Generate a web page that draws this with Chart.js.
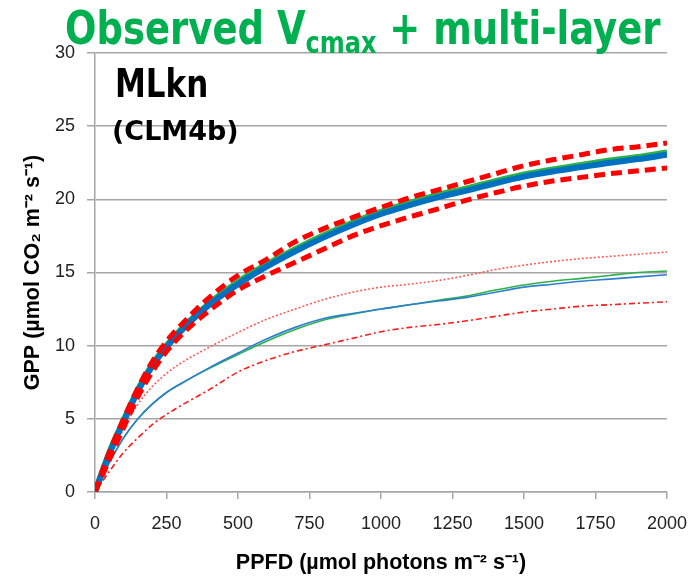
<!DOCTYPE html>
<html>
<head>
<meta charset="utf-8">
<script src="https://cdn.jsdelivr.net/npm/chart.js@4"></script>
<style>
    body { margin: 0; background: #fff; }
    #wrap { position: relative; width: 692px; height: 585px; }
    .label {
        position: absolute; margin: 0; white-space: nowrap;
        font-family: 'DejaVu Sans', sans-serif; font-weight: bold;
    }
    #title {
        left: 65px; top: 13px; font-size: 37px; line-height: 37px; color: #00B050;
        transform: scaleY(1.25); transform-origin: 0 31px;
    }
    #title sub { font-size: 24px; line-height: 0; vertical-align: -7px; }
    #model {
        left: 115px; top: 71px; font-size: 31px; line-height: 31px; color: #000;
        transform: scaleY(1.25); transform-origin: 0 26px;
    }
    #version {
        left: 112px; top: 117px; font-size: 27px; line-height: 27px; color: #000;
    }
</style>
</head>
<body>
<div id="wrap">
    <canvas id="gpp-chart" width="692" height="585"></canvas>
    <div id="title" class="label">Observed V<sub>cmax</sub> + multi-layer</div>
    <div id="model" class="label">MLkn</div>
    <div id="version" class="label">(CLM4b)</div>
</div>
<script>
// PPFD (µmol photons m-2 s-1)
const ppfd = [0, 50, 100, 150, 200, 250, 300, 400, 500, 600, 700, 800, 900, 1000,
    1100, 1200, 1300, 1400, 1500, 1600, 1700, 1800, 1900, 2000];

// GPP values
const thickGreen = [0, 2.7, 4.9, 7.0, 8.7, 10.0, 11.1, 12.9, 14.35, 15.55, 16.6, 17.55, 18.4, 19.15,
    19.75, 20.3, 20.75, 21.25, 21.7, 22.05, 22.35, 22.65, 22.9, 23.2];
const thickBlue = [0, 2.6, 4.8, 6.9, 8.6, 9.9, 11.0, 12.8, 14.2, 15.4, 16.45, 17.4, 18.25, 19.0,
    19.6, 20.15, 20.6, 21.1, 21.55, 21.9, 22.2, 22.5, 22.75, 23.05];
const thickRedHigh = [0, 2.7, 5.0, 7.1, 8.9, 10.3, 11.4, 13.3, 14.8, 15.9, 17.1, 18.0, 18.75, 19.45,
    20.1, 20.65, 21.2, 21.75, 22.3, 22.7, 23.05, 23.4, 23.6, 23.85];
const thickRedLow = [0, 2.2, 4.4, 6.5, 8.2, 9.6, 10.7, 12.4, 13.8, 14.8, 15.7, 16.6, 17.5, 18.2,
    18.8, 19.35, 19.95, 20.45, 20.9, 21.25, 21.5, 21.75, 21.95, 22.15];
const thinBlue = [0, 2.0, 3.7, 5.0, 6.0, 6.8, 7.4, 8.5, 9.5, 10.45, 11.25, 11.85, 12.2, 12.5,
    12.8, 13.05, 13.3, 13.65, 14.0, 14.2, 14.4, 14.55, 14.7, 14.85];
const thinGreen = [0, 2.0, 3.7, 5.0, 6.0, 6.8, 7.4, 8.45, 9.4, 10.3, 11.1, 11.75, 12.15, 12.5,
    12.8, 13.1, 13.4, 13.8, 14.15, 14.4, 14.6, 14.8, 15.0, 15.1];
const thinRedHigh = [0, 2.3, 4.3, 6.0, 7.2, 8.1, 8.8, 9.9, 10.9, 11.8, 12.5, 13.15, 13.65, 14.0,
    14.2, 14.45, 14.8, 15.2, 15.5, 15.75, 15.95, 16.1, 16.25, 16.4];
const thinRedLow = [0, 1.4, 2.7, 3.7, 4.6, 5.3, 5.9, 7.0, 8.2, 9.0, 9.6, 10.05, 10.5, 10.95,
    11.25, 11.45, 11.7, 12.0, 12.3, 12.5, 12.7, 12.8, 12.9, 13.0];

const gridColor = '#A6A6A6';
const tickFont = { family: "'Liberation Sans', sans-serif", size: 18 };
const titleFont = { family: "'Liberation Sans', sans-serif", size: 21.5, weight: 'bold' };

function points(values) {
    return ppfd.map((x, i) => ({ x: x, y: values[i] }));
}

function series(values, color, width, dash, order) {
    return {
        data: points(values),
        borderColor: color,
        borderWidth: width,
        borderDash: dash,
        pointRadius: 0,
        cubicInterpolationMode: 'monotone',
        fill: false,
        order: order
    };
}

const datasets = [
    series(thickRedHigh, '#FF0000', 5, [11, 6], 1),
    series(thickRedLow, '#FF0000', 5, [11, 6], 2),
    series(thickBlue, '#0070C0', 6, [], 3),
    series(thickGreen, '#2DB24A', 6, [], 4),
    series(thinRedHigh, '#FF5A5A', 1.6, [2, 2], 5),
    series(thinRedLow, '#FF1A1A', 1.6, [6, 3, 2, 3], 6),
    series(thinBlue, '#2E7FD0', 1.6, [], 7),
    series(thinGreen, '#2DB24A', 1.6, [], 8)
];

new Chart(document.getElementById('gpp-chart'), {
    type: 'line',
    data: { datasets: datasets },
    options: {
        responsive: false,
        animation: false,
        layout: { padding: { top: 53, right: 25, left: 0, bottom: 0 } },
        plugins: {
            legend: { display: false },
            tooltip: { enabled: false }
        },
        scales: {
            x: {
                type: 'linear',
                min: 0,
                max: 2000,
                afterFit: scale => {
                    scale.height = 93;
                    scale.paddingLeft = 0;
                    scale.paddingRight = 0;
                },
                ticks: {
                    stepSize: 250, color: '#222', font: tickFont, padding: 14, maxRotation: 0,
                    callback: value => String(value)
                },
                grid: { drawOnChartArea: false, color: gridColor, lineWidth: 1.5, tickLength: 7 },
                border: { color: gridColor, width: 1.5 },
                title: {
                    display: true,
                    text: 'PPFD (µmol photons m⁻² s⁻¹)',
                    color: '#000',
                    font: titleFont,
                    padding: { top: 0, bottom: 9 }
                }
            },
            y: {
                min: 0,
                max: 30,
                afterFit: scale => { scale.width = 95; },
                ticks: { stepSize: 5, color: '#222', font: tickFont, padding: 12 },
                grid: { color: gridColor, lineWidth: 1.5, tickLength: 8 },
                border: { color: gridColor, width: 1.5 },
                title: {
                    display: true,
                    text: 'GPP (µmol CO₂ m⁻² s⁻¹)',
                    color: '#000',
                    font: titleFont,
                    padding: { top: 20, bottom: 0 }
                }
            }
        }
    }
});
</script>
</body>
</html>
